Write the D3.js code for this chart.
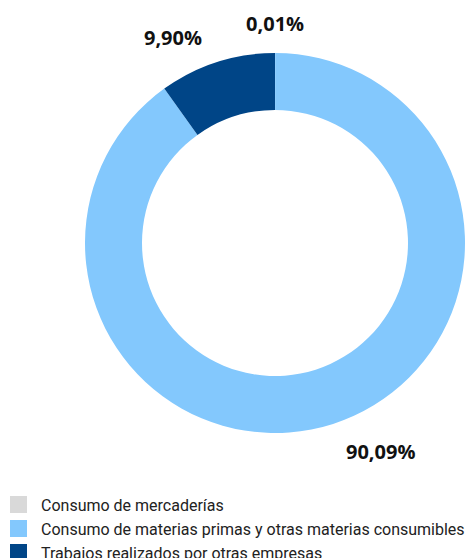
<!DOCTYPE html>
<html>
<head>
<meta charset="utf-8">
<script src="https://cdn.jsdelivr.net/npm/d3@7"></script>
<style>
  html, body { margin: 0; padding: 0; background: #fff; overflow: hidden; }
  svg { display: block; }
</style>
</head>
<body>
<svg id="chart" width="466" height="558"></svg>
<script>
// chart data
var categories = [
  'Consumo de mercaderías',
  'Consumo de materias primas y otras materias consumibles',
  'Trabajos realizados por otras empresas'
];
var values = [0.01, 90.09, 9.90];
var labels = ['0,01%', '90,09%', '9,90%'];
var colors = ['#d9d9d9', '#83c8fd', '#004587'];

var svg = d3.select('#chart');

var cx = 275, cy = 243, outer = 190, inner = 133;

var pie = d3.pie().sort(null).value(function (d) { return d; });
var arcs = pie(values);

var arc = d3.arc().innerRadius(inner).outerRadius(outer);

var g = svg.append('g').attr('transform', 'translate(' + cx + ',' + cy + ')');

g.selectAll('path.slice')
  .data(arcs)
  .enter().append('path')
  .attr('class', 'slice')
  .attr('d', arc)
  .attr('fill', function (d, i) { return colors[i]; });

// outside labels, anchored away from the ring
var labelR = 219;
g.selectAll('text.pct')
  .data(arcs)
  .enter().append('text')
  .attr('class', 'pct')
  .each(function (d, i) {
    var a = (d.startAngle + d.endAngle) / 2;
    var x = Math.sin(a) * labelR, y = -Math.cos(a) * labelR;
    var anchor = Math.abs(x) < 20 ? 'middle' : (x > 0 ? 'start' : 'end');
    var pad = anchor === 'middle' ? 0 : (x > 0 ? 4 : -6);
    d3.select(this)
      .attr('x', x + pad)
      .attr('y', y + (y < 0 && anchor !== 'middle' ? 3 : 0))
      .attr('dy', '0.35em')
      .attr('text-anchor', anchor)
      .text(labels[i]);
  })
  .style('font-family', '"Open Sans", sans-serif')
  .style('font-weight', 700)
  .style('font-size', '20px')
  .style('fill', '#111');

// legend
var legend = svg.append('g').attr('transform', 'translate(10,496)');
var rows = legend.selectAll('g.row')
  .data(categories)
  .enter().append('g')
  .attr('class', 'row')
  .attr('transform', function (d, i) { return 'translate(0,' + (i * 24) + ')'; });

rows.append('rect')
  .attr('width', 17).attr('height', 17)
  .attr('fill', function (d, i) { return colors[i]; });

rows.append('text')
  .attr('x', 31).attr('y', 14.7)
  .text(function (d) { return d; })
  .style('font-family', 'Roboto, sans-serif')
  .style('font-size', '16px')
  .style('fill', '#222');
</script>
</body>
</html>
